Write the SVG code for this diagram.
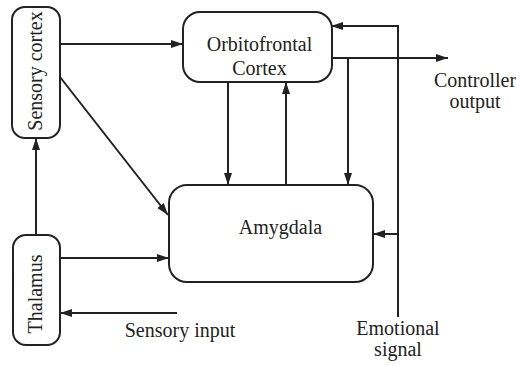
<svg xmlns="http://www.w3.org/2000/svg" width="516" height="365" viewBox="0 0 516 365">
<style>
.box{fill:#fff;stroke:#222;stroke-width:2}
.ln{fill:none;stroke:#222;stroke-width:2}
.arr{marker-end:url(#ah)}
.t{font-family:"Times New Roman",Times,"Liberation Serif","DejaVu Serif","Noto Serif",serif;font-size:20px;fill:#222}
</style>
<defs>
<marker id="ah" viewBox="0 0 12 8" refX="12" refY="4" markerWidth="12" markerHeight="8" markerUnits="userSpaceOnUse" orient="auto">
<path d="M0,0 L12,4 L0,8 Z" fill="#222"/>
</marker>
</defs>
<rect width="516" height="365" fill="#fff"/>
<g id="connectors">
<line class="ln arr" x1="36" y1="235" x2="36" y2="138"/>
<line class="ln arr" x1="60" y1="44" x2="183" y2="44"/>
<line class="ln arr" x1="60" y1="77" x2="168" y2="215"/>
<line class="ln arr" x1="60" y1="258" x2="169" y2="258"/>
<line class="ln arr" x1="177" y1="313" x2="60" y2="313"/>
<line class="ln arr" x1="228" y1="82" x2="228" y2="185"/>
<line class="ln arr" x1="286" y1="185" x2="286" y2="82"/>
<line class="ln arr" x1="332" y1="58" x2="448" y2="58"/>
<line class="ln arr" x1="348" y1="58" x2="348" y2="185"/>
<polyline class="ln arr" points="398,317 398,26 331,26"/>
<line class="ln arr" x1="398" y1="234" x2="373" y2="234"/>
</g>
<g id="sensory-cortex">
<rect class="box" x="12" y="7" width="48" height="131" rx="13"/>
<text class="t" transform="translate(42,71) rotate(-90)" text-anchor="middle">Sensory cortex</text>
</g>
<g id="thalamus">
<rect class="box" x="13" y="235" width="47" height="110" rx="13"/>
<text class="t" transform="translate(42,294) rotate(-90)" text-anchor="middle">Thalamus</text>
</g>
<g id="orbitofrontal">
<rect class="box" x="183" y="12" width="149" height="70" rx="17"/>
<text class="t" x="259.5" y="51" text-anchor="middle">Orbitofrontal</text>
<text class="t" x="259.5" y="75" text-anchor="middle">Cortex</text>
</g>
<g id="amygdala">
<rect class="box" x="169" y="185" width="204" height="97" rx="18"/>
<text class="t" x="280.5" y="234" text-anchor="middle">Amygdala</text>
</g>
<g id="labels">
<text class="t" x="180" y="337" text-anchor="middle">Sensory input</text>
<text class="t" x="475" y="87" text-anchor="middle">Controller</text>
<text class="t" x="475" y="108" text-anchor="middle">output</text>
<text class="t" x="398" y="335" text-anchor="middle">Emotional</text>
<text class="t" x="398" y="356" text-anchor="middle">signal</text>
</g>
</svg>
